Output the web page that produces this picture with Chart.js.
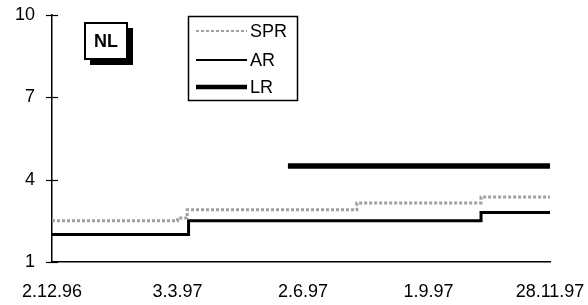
<!DOCTYPE html>
<html>
<head>
<meta charset="utf-8">
<script src="https://cdn.jsdelivr.net/npm/chart.js@4/dist/chart.umd.min.js"></script>
<style>
  html, body { margin: 0; padding: 0; background: #fff; }
  #wrap { position: relative; width: 588px; height: 305px; }
</style>
</head>
<body>
<div id="wrap"><canvas id="c" width="588" height="305"></canvas></div>
<script>
// ---- data (x = days since 2.12.96) ----
const xTickDays   = [0, 91, 182, 273, 361];
const xTickLabels = ['2.12.96', '3.3.97', '2.6.97', '1.9.97', '28.11.97'];
const yTicks      = [1, 4, 7, 10];

const sprDays   = [0, 91, 98, 221, 311, 361];
const sprValues = [2.5, 2.6, 2.9, 3.15, 3.37, 3.37];
const arDays    = [0, 99, 311, 361];
const arValues  = [2.0, 2.5, 2.8, 2.8];
const lrDays    = [171, 361];
const lrValues  = [4.5, 4.5];

const seriesNames = ['SPR', 'AR', 'LR'];
const panelLabel  = 'NL';

const pts = (d, v) => d.map((x, i) => ({ x: x, y: v[i] }));
const FONT = '"Liberation Sans", Arial, sans-serif';

const crossTicks = {
  id: 'crossTicks',
  afterDraw(chart) {
    const ctx = chart.ctx, ys = chart.scales.y, ax = chart.chartArea.left;
    ctx.save();
    ctx.strokeStyle = '#000'; ctx.lineWidth = 1.2;
    ys.ticks.forEach(t => {
      const py = Math.round(ys.getPixelForValue(t.value)) + 0.5;
      ctx.beginPath(); ctx.moveTo(ax - 6, py); ctx.lineTo(ax + 6, py); ctx.stroke();
    });
    ctx.restore();
  }
};

const overlay = {
  id: 'overlay',
  afterDraw(chart) {
    const ctx = chart.ctx;
    ctx.save();
    // NL box with shadow
    ctx.fillStyle = '#000';
    ctx.fillRect(90, 28, 43, 37);
    ctx.fillStyle = '#fff';
    ctx.fillRect(85, 23, 42, 36);
    ctx.strokeStyle = '#000'; ctx.lineWidth = 2;
    ctx.strokeRect(85, 23, 42, 36);
    ctx.fillStyle = '#000';
    ctx.font = 'bold 18px ' + FONT;
    ctx.textAlign = 'center'; ctx.textBaseline = 'middle';
    ctx.fillText(panelLabel, 106, 42);

    // legend box
    ctx.lineWidth = 1.5;
    ctx.fillStyle = '#fff';
    ctx.fillRect(188, 16, 109, 84);
    ctx.strokeRect(188.5, 16.5, 109, 84);
    const rows = [31, 60, 87];
    chart.data.datasets.forEach((ds, i) => {
      ctx.beginPath();
      ctx.strokeStyle = ds.borderColor;
      ctx.lineWidth = i === 0 ? 2 : (i === 1 ? 2 : 4.5);
      ctx.setLineDash(ds.borderDash || []);
      ctx.moveTo(196, rows[i]); ctx.lineTo(247, rows[i]);
      ctx.stroke();
      ctx.setLineDash([]);
      ctx.fillStyle = '#000';
      ctx.font = '18px ' + FONT;
      ctx.textAlign = 'left'; ctx.textBaseline = 'middle';
      ctx.fillText(ds.label, 250, rows[i] + 1);
    });
    ctx.restore();
  }
};

const noPad = s => { s.paddingLeft = 0; s.paddingRight = 0; s.paddingTop = 0; s.paddingBottom = 0; };

new Chart(document.getElementById('c'), {
  type: 'line',
  data: {
    datasets: [
      { label: seriesNames[0], data: pts(sprDays, sprValues), borderColor: '#a0a0a0',
        borderWidth: 3, borderDash: [3, 2], stepped: 'before', pointRadius: 0 },
      { label: seriesNames[1], data: pts(arDays, arValues), borderColor: '#000',
        borderWidth: 3, stepped: 'before', pointRadius: 0 },
      { label: seriesNames[2], data: pts(lrDays, lrValues), borderColor: '#000',
        borderWidth: 5.5, stepped: 'before', pointRadius: 0, borderCapStyle: 'butt' }
    ]
  },
  options: {
    responsive: false,
    animation: false,
    layout: { padding: { left: 0, right: 38, top: 15, bottom: 0 } },
    plugins: { legend: { display: false }, tooltip: { enabled: false } },
    scales: {
      x: {
        type: 'linear', min: 0, max: 361,
        afterBuildTicks: s => { s.ticks = xTickDays.map(v => ({ value: v })); },
        afterFit: s => { s.height = 43; noPad(s); },
        ticks: {
          callback: v => { const i = xTickDays.indexOf(v); return i >= 0 ? xTickLabels[i] : ''; },
          color: '#000', font: { family: FONT, size: 18 }, padding: 11, maxRotation: 0, autoSkip: false,
          align: 'center'
        },
        grid: { display: false },
        border: { display: true, color: '#000', width: 1.5 }
      },
      y: {
        type: 'linear', min: 1, max: 10,
        afterBuildTicks: s => { s.ticks = yTicks.map(v => ({ value: v })); },
        afterFit: s => { s.width = 52; noPad(s); },
        ticks: { color: '#000', font: { family: FONT, size: 18 }, padding: 9 },
        grid: { display: false },
        border: { display: true, color: '#000', width: 1.5 }
      }
    }
  },
  plugins: [crossTicks, overlay]
});
</script>
</body>
</html>
